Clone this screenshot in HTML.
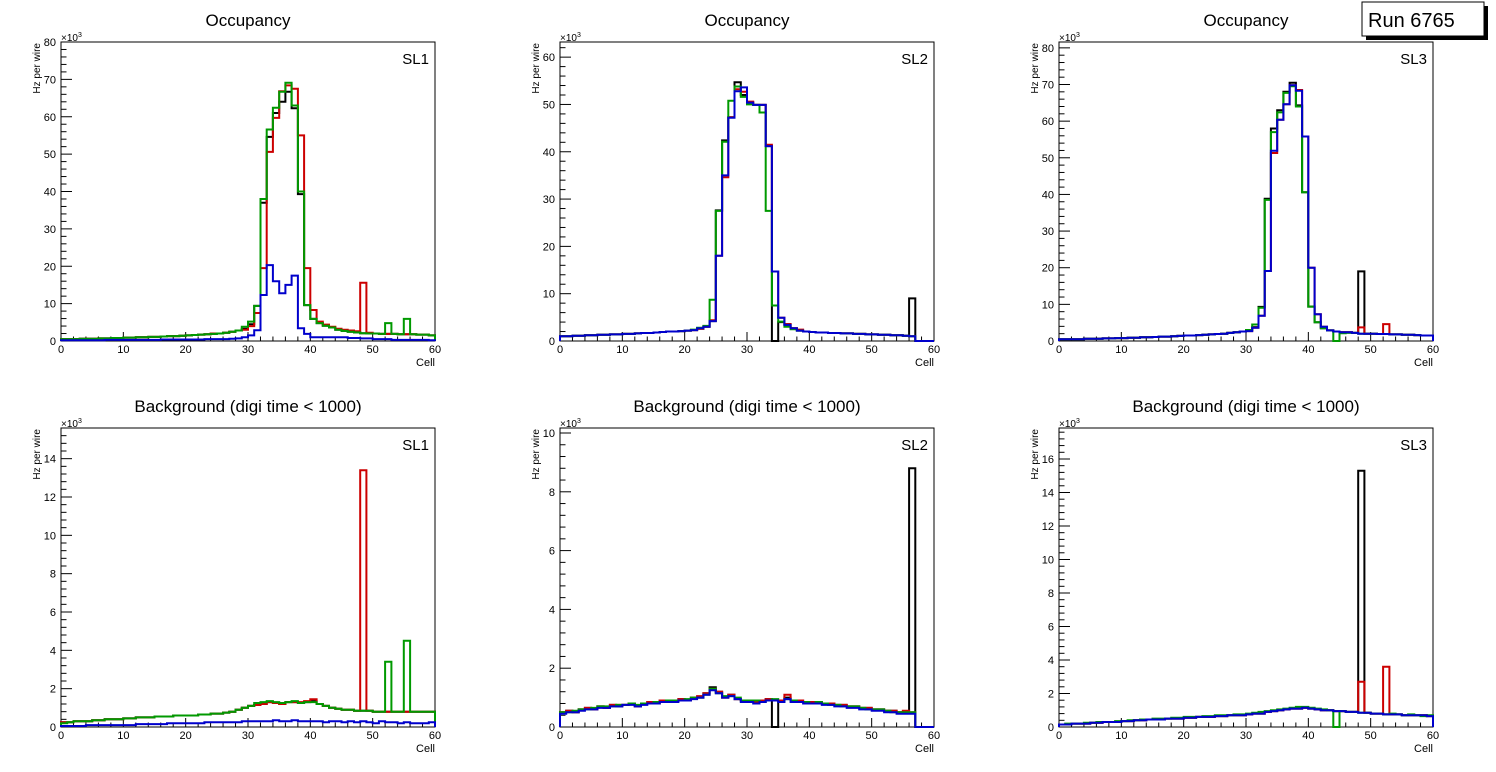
<!DOCTYPE html>
<html><head><meta charset="utf-8"><style>
body{margin:0;background:#fff;}
svg{display:block;font-family:"Liberation Sans",sans-serif;}
</style></head><body>
<svg id="c" width="1496" height="772" viewBox="0 0 1496 772"></svg>
<script>
const cells = [0,10,20,30,40,50,60];
const panelTitles = ["Occupancy","Occupancy","Occupancy","Background (digi time < 1000)","Background (digi time < 1000)","Background (digi time < 1000)"];
const slLabels = ["SL1","SL2","SL3","SL1","SL2","SL3"];
const yMax = [80,63.2,81.6,15.6,10.17,17.85];
const yStep = [10,10,10,2,2,2];
// Panel 1: Occupancy SL1
const p1k=[0.5,0.5,0.5,0.6,0.6,0.6,0.7,0.7,0.8,0.8,0.9,0.9,1.0,1.0,1.1,1.1,1.2,1.3,1.3,1.4,1.5,1.6,1.7,1.8,1.9,2.0,2.2,2.5,2.8,3.3,4.5,9.4,37,54.6,61,64,66.7,62.3,39.3,9.6,5.9,4.8,4.1,3.6,3.0,2.7,2.5,2.3,2.1,2.0,2.0,1.9,1.9,1.9,1.8,1.8,1.8,1.7,1.7,1.5];
const p1r=[0.5,0.5,0.5,0.6,0.6,0.6,0.7,0.7,0.8,0.8,0.9,0.9,1.0,1.0,1.1,1.1,1.2,1.3,1.3,1.4,1.5,1.6,1.7,1.8,2.0,2.0,2.2,2.5,2.8,3.0,4.0,7.5,19.5,50.6,59.7,66.8,68.4,67.5,55,19.5,8.3,5.2,4.4,3.8,3.3,3.0,2.8,2.6,15.6,2.2,2.0,1.9,1.9,1.9,1.8,1.8,1.8,1.7,1.7,1.5];
const p1g=[0.5,0.5,0.5,0.6,0.6,0.6,0.7,0.7,0.8,0.8,0.9,0.9,1.0,1.0,1.1,1.1,1.2,1.3,1.3,1.4,1.5,1.6,1.7,1.8,1.9,2.0,2.2,2.5,2.8,3.8,5.2,9.4,38,56.6,62.4,66.7,69.1,63,40,9.6,5.9,4.8,4.1,3.6,3.0,2.7,2.5,2.3,2.1,2.0,2.0,1.9,4.8,1.9,1.8,5.9,1.8,1.7,1.7,1.5];
const p1b=[0.2,0.2,0.2,0.2,0.2,0.2,0.2,0.3,0.3,0.3,0.3,0.3,0.3,0.3,0.3,0.3,0.4,0.4,0.4,0.4,0.4,0.4,0.4,0.5,0.5,0.5,0.5,0.6,0.7,1.0,1.5,2.9,12.3,20.3,16,12.8,15,17.5,3.4,1.9,1.0,1.0,1.0,1.0,1.0,1.0,0.8,0.8,0.7,0.7,0.5,0.5,0.5,0.3,0.3,0.3,0.3,0.3,0.3,0.2];
// Panel 2: Occupancy SL2
const p2k=[1.0,1.0,1.1,1.1,1.2,1.2,1.3,1.3,1.4,1.4,1.5,1.5,1.6,1.7,1.7,1.8,1.9,2.0,2.0,2.1,2.2,2.3,2.6,3.0,4.2,27.6,42.4,47.3,54.7,52,50.4,49.9,49.9,41.2,0,4,3.4,2.7,2.2,2.0,1.9,1.8,1.8,1.7,1.7,1.6,1.6,1.5,1.5,1.4,1.4,1.3,1.3,1.2,1.2,1.1,9,0,0,0];
const p2r=[1.0,1.0,1.1,1.1,1.2,1.2,1.3,1.3,1.4,1.4,1.5,1.5,1.6,1.7,1.7,1.8,1.9,2.0,2.0,2.1,2.2,2.3,2.6,3.0,4.4,18,34.6,47.3,53.2,52.7,50.6,49.9,49.9,41.5,14.7,4.9,3.6,2.7,2.4,2.0,1.9,1.8,1.8,1.7,1.7,1.6,1.6,1.5,1.5,1.4,1.4,1.3,1.3,1.2,1.2,1.1,1.0,0,0,0];
const p2g=[1.0,1.0,1.1,1.1,1.2,1.2,1.3,1.3,1.4,1.4,1.5,1.5,1.6,1.7,1.7,1.8,1.9,2.0,2.0,2.1,2.2,2.4,2.8,3.2,8.7,27.5,42.1,50.8,53.8,51.6,50,49.9,48.3,27.5,7.5,4.1,3.0,2.5,2.2,2.0,1.9,1.8,1.8,1.7,1.7,1.6,1.6,1.5,1.5,1.4,1.4,1.3,1.3,1.2,1.2,1.1,1.0,0,0,0];
const p2b=[1.0,1.0,1.1,1.1,1.2,1.2,1.3,1.3,1.4,1.4,1.5,1.5,1.6,1.7,1.7,1.8,1.9,2.0,2.0,2.1,2.2,2.3,2.7,3.0,4.2,18,35,47.2,52.8,53.6,50.4,49.9,49.9,41.2,14.7,4.9,3.4,2.7,2.2,2.0,1.9,1.8,1.8,1.7,1.7,1.6,1.6,1.5,1.5,1.4,1.4,1.3,1.3,1.2,1.2,1.1,1.0,0,0,0];
// Panel 3: Occupancy SL3
const p3k=[0.5,0.5,0.5,0.5,0.6,0.6,0.6,0.7,0.7,0.8,0.8,0.9,0.9,1.0,1.0,1.1,1.2,1.2,1.3,1.4,1.5,1.5,1.6,1.7,1.8,1.9,2.0,2.2,2.4,2.6,2.9,3.8,9.3,38.8,58,63,68,70.5,64.3,40.6,9.4,5.1,3.5,2.9,2.6,2.4,2.4,2.2,19,2.0,2.0,1.9,1.9,1.8,1.8,1.7,1.7,1.6,1.5,1.5];
const p3r=[0.5,0.5,0.5,0.5,0.6,0.6,0.6,0.7,0.7,0.8,0.8,0.9,0.9,1.0,1.0,1.1,1.2,1.2,1.3,1.4,1.5,1.5,1.6,1.7,1.8,1.9,2.0,2.2,2.4,2.6,2.7,3.6,6.9,19.1,51.3,60.4,64.6,69.8,68.5,55.8,20,7.3,3.9,2.9,2.6,2.4,2.4,2.2,3.7,2.0,2.0,1.9,4.6,1.8,1.8,1.7,1.7,1.6,1.5,1.5];
const p3g=[0.5,0.5,0.5,0.5,0.6,0.6,0.6,0.7,0.7,0.8,0.8,0.9,0.9,1.0,1.0,1.1,1.2,1.2,1.3,1.4,1.5,1.5,1.6,1.7,1.8,1.9,2.0,2.2,2.4,2.6,3.0,4.5,9.1,38.5,57,62.4,67.7,69.5,64,40.6,9.4,5.1,3.5,2.9,0,2.1,2.2,2.2,2.0,2.0,2.0,1.9,1.9,1.8,1.8,1.7,1.7,1.6,1.5,1.5];
const p3b=[0.5,0.5,0.5,0.5,0.6,0.6,0.6,0.7,0.7,0.8,0.8,0.9,0.9,1.0,1.0,1.1,1.2,1.2,1.3,1.4,1.5,1.5,1.6,1.7,1.8,1.9,2.0,2.2,2.4,2.6,2.7,3.6,6.9,19.1,51.9,60.4,64.6,69.8,68.3,55.8,20,7.3,3.9,2.9,2.6,2.4,2.4,2.2,2.0,2.0,2.0,1.9,1.9,1.8,1.8,1.7,1.7,1.6,1.5,1.5];
// Panel 4: Background SL1
const p4k=[0.25,0.25,0.3,0.3,0.3,0.35,0.35,0.4,0.4,0.4,0.45,0.45,0.5,0.5,0.5,0.55,0.55,0.55,0.6,0.6,0.6,0.6,0.65,0.65,0.7,0.7,0.75,0.8,0.9,1.0,1.1,1.15,1.2,1.3,1.25,1.2,1.3,1.3,1.25,1.3,1.35,1.2,1.1,1.0,0.95,0.9,0.9,0.85,0.85,0.85,0.8,0.8,0.8,0.8,0.8,0.8,0.8,0.8,0.8,0.8];
const p4r=[0.25,0.25,0.3,0.3,0.3,0.35,0.35,0.4,0.4,0.4,0.45,0.45,0.5,0.5,0.5,0.55,0.55,0.55,0.6,0.6,0.6,0.6,0.65,0.65,0.7,0.7,0.75,0.8,0.9,1.0,1.1,1.15,1.2,1.3,1.25,1.2,1.3,1.3,1.3,1.35,1.45,1.2,1.1,1.0,0.95,0.9,0.9,0.85,13.4,0.85,0.8,0.8,0.8,0.8,0.8,0.8,0.8,0.8,0.8,0.8];
const p4g=[0.2,0.25,0.3,0.3,0.3,0.35,0.35,0.4,0.4,0.4,0.45,0.45,0.5,0.5,0.5,0.55,0.55,0.55,0.6,0.6,0.6,0.6,0.65,0.65,0.7,0.7,0.75,0.8,0.9,1.0,1.1,1.25,1.3,1.35,1.3,1.25,1.3,1.35,1.25,1.3,1.3,1.2,1.1,1.0,0.95,0.9,0.9,0.85,0.85,0.85,0.8,0.8,3.4,0.8,0.8,4.5,0.8,0.8,0.8,0.8];
const p4b=[0.05,0.05,0.05,0.05,0.1,0.1,0.1,0.1,0.1,0.1,0.1,0.1,0.15,0.15,0.15,0.15,0.15,0.2,0.2,0.2,0.2,0.2,0.2,0.25,0.25,0.25,0.25,0.25,0.25,0.3,0.3,0.3,0.3,0.3,0.35,0.3,0.3,0.35,0.3,0.3,0.3,0.3,0.25,0.3,0.3,0.25,0.3,0.25,0.3,0.25,0.2,0.3,0.25,0.25,0.2,0.25,0.2,0.2,0.2,0.25];
// Panel 5: Background SL2
const p5k=[0.5,0.55,0.5,0.6,0.65,0.6,0.7,0.65,0.75,0.7,0.75,0.8,0.7,0.8,0.85,0.8,0.9,0.85,0.9,0.95,0.9,1.0,1.0,1.15,1.35,1.2,1.0,1.1,0.95,0.9,0.9,0.85,0.9,0.95,0,0.9,1.0,0.9,0.9,0.85,0.85,0.85,0.8,0.8,0.75,0.75,0.7,0.7,0.65,0.65,0.6,0.6,0.55,0.55,0.5,0.5,8.8,0,0,0];
const p5r=[0.5,0.55,0.5,0.6,0.65,0.6,0.7,0.65,0.75,0.75,0.75,0.8,0.7,0.8,0.85,0.8,0.9,0.85,0.9,0.95,0.9,1.0,1.05,1.15,1.3,1.2,1.0,1.1,0.95,0.9,0.9,0.85,0.9,0.95,0.9,0.9,1.1,0.9,0.9,0.85,0.85,0.85,0.8,0.8,0.75,0.75,0.7,0.7,0.65,0.65,0.6,0.6,0.55,0.55,0.5,0.55,0.5,0,0,0];
const p5g=[0.5,0.5,0.55,0.6,0.6,0.65,0.7,0.7,0.7,0.75,0.75,0.8,0.75,0.8,0.8,0.85,0.85,0.9,0.9,0.9,0.95,1.0,1.0,1.1,1.3,1.15,1.05,1.05,1.0,0.9,0.9,0.9,0.85,0.9,0.95,0.85,0.95,0.9,0.85,0.85,0.8,0.85,0.8,0.75,0.75,0.7,0.7,0.7,0.65,0.6,0.6,0.6,0.55,0.5,0.5,0.5,0.5,0,0,0];
const p5b=[0.45,0.5,0.5,0.55,0.6,0.6,0.65,0.65,0.7,0.7,0.75,0.75,0.7,0.75,0.8,0.8,0.85,0.85,0.85,0.9,0.9,0.95,1.0,1.1,1.25,1.15,1.0,1.05,0.95,0.85,0.85,0.8,0.85,0.9,0.9,0.85,0.95,0.85,0.85,0.8,0.8,0.8,0.75,0.75,0.7,0.7,0.65,0.65,0.6,0.6,0.55,0.55,0.5,0.5,0.45,0.45,0.45,0,0,0];
// Panel 6: Background SL3
const p6k=[0.15,0.15,0.2,0.2,0.2,0.25,0.25,0.3,0.3,0.3,0.35,0.35,0.4,0.4,0.45,0.45,0.45,0.5,0.5,0.5,0.55,0.55,0.6,0.6,0.6,0.65,0.65,0.7,0.7,0.7,0.75,0.8,0.8,0.9,0.95,1.0,1.05,1.1,1.1,1.15,1.1,1.05,1.0,1.0,0.95,0.95,0.9,0.9,15.3,0.85,0.8,0.8,0.75,0.75,0.75,0.7,0.7,0.7,0.7,0.65];
const p6r=[0.15,0.15,0.2,0.2,0.2,0.25,0.25,0.3,0.3,0.3,0.35,0.35,0.4,0.4,0.45,0.45,0.45,0.5,0.5,0.5,0.55,0.55,0.6,0.6,0.6,0.65,0.65,0.7,0.7,0.7,0.75,0.8,0.8,0.9,0.95,1.0,1.05,1.1,1.1,1.15,1.1,1.05,1.0,1.0,0.95,0.95,0.9,0.9,2.7,0.85,0.8,0.8,3.6,0.75,0.75,0.7,0.7,0.7,0.7,0.65];
const p6g=[0.15,0.2,0.2,0.2,0.25,0.25,0.3,0.3,0.3,0.35,0.35,0.4,0.4,0.45,0.45,0.5,0.5,0.5,0.55,0.55,0.6,0.6,0.6,0.65,0.65,0.7,0.7,0.7,0.75,0.75,0.8,0.85,0.9,0.95,1.0,1.05,1.1,1.15,1.2,1.2,1.15,1.1,1.05,1.0,0,0.95,0.9,0.9,0.85,0.85,0.8,0.8,0.75,0.8,0.75,0.7,0.75,0.7,0.65,0.7];
const p6b=[0.15,0.15,0.2,0.2,0.2,0.25,0.25,0.3,0.3,0.3,0.35,0.35,0.4,0.4,0.45,0.45,0.45,0.5,0.5,0.5,0.55,0.55,0.6,0.6,0.6,0.65,0.65,0.7,0.7,0.7,0.75,0.8,0.8,0.9,0.95,1.0,1.05,1.1,1.1,1.15,1.1,1.05,1.0,1.0,0.95,0.95,0.9,0.9,0.85,0.85,0.8,0.8,0.75,0.75,0.75,0.7,0.7,0.7,0.7,0.65];

const panelSeries=[[p1k,p1r,p1g,p1b],[p2k,p2r,p2g,p2b],[p3k,p3r,p3g,p3b],[p4k,p4r,p4g,p4b],[p5k,p5r,p5g,p5b],[p6k,p6r,p6g,p6b]];
const seriesColors=["#000000","#cc0000","#009900","#0000cc"];
const seriesNames=["black","red","green","blue"];

const NS="http://www.w3.org/2000/svg";
const svg=document.getElementById('c');
function mk(tag,attrs,parent){const e=document.createElementNS(NS,tag);for(const k in attrs)e.setAttribute(k,attrs[k]);(parent||svg).appendChild(e);return e;}
const colX=[61,560,1059], rowY=[42,428], W=374, H=299;

panelSeries.forEach((ser,p)=>{
  const x0=colX[p%3], y0=rowY[Math.floor(p/3)], yb=y0+H;
  const g=mk('g',{});
  
  
  const sx=v=>x0+v/60*W;
  const sy=v=>yb-Math.min(v,yMax[p])/yMax[p]*H;
  // title
  const t=mk('text',{x:x0+187,y:y0-16,'font-size':17,'text-anchor':'middle'},g);t.textContent=panelTitles[p];
  
  // frame
  const fr=mk('rect',{x:x0,y:y0,width:W,height:H,fill:'none',stroke:'#000','stroke-width':1},g);
  
  // x ticks
  for(let v=0;v<=60;v+=2){const L=(v%10===0)?9:4.5;mk('line',{x1:sx(v),x2:sx(v),y1:yb,y2:yb-L,stroke:'#000','stroke-width':1},g);}
  cells.forEach(v=>{const tl=mk('text',{x:sx(v),y:yb+12,'font-size':11,'text-anchor':'middle'},g);tl.textContent=v;
    });
  const xl=mk('text',{x:x0+W,y:yb+25,'font-size':11,'text-anchor':'end'},g);xl.textContent='Cell';
  
  // y ticks
  const st=yStep[p], mn=st/5;
  for(let i=0;i*mn<=yMax[p]+1e-9;i++){const v=i*mn;const L=(i%5===0)?11:5.5;mk('line',{x1:x0,x2:x0+L,y1:sy(v),y2:sy(v),stroke:'#000','stroke-width':1},g);
    if(i%5===0){const yl=mk('text',{x:x0-5,y:sy(v)+4,'font-size':11,'text-anchor':'end'},g);yl.textContent=Math.round(v);
      }}
  const ex=mk('text',{x:x0,y:y0-1,'font-size':10},g);ex.innerHTML='×10<tspan dy="-4" font-size="7">3</tspan>';
  
  const yt=mk('text',{x:0,y:0,'font-size':10,'text-anchor':'end',transform:`translate(${x0-21},${y0+1}) rotate(-90)`},g);yt.textContent='Hz per wire';
  
  const sl=mk('text',{x:x0+W-6,y:y0+22,'font-size':15,'text-anchor':'end'},g);sl.textContent=slLabels[p];
  
  // histograms
  ser.forEach((arr,s)=>{
    let d=`M${sx(0)},${yb}`;
    arr.forEach((v,i)=>{d+=` V${sy(v).toFixed(1)} H${sx(i+1).toFixed(1)}`;});
    d+=` V${yb}`;
    const path=mk('path',{d:d,fill:'none',stroke:seriesColors[s],'stroke-width':2},g);
    
    
  });
});
// Run label box
const rb=mk('g',{});


mk('rect',{x:1366,y:6,width:122,height:34,fill:'#000'},rb);
mk('rect',{x:1362,y:2,width:122,height:34,fill:'#fff',stroke:'#000','stroke-width':1},rb);
const rt=mk('text',{x:1368,y:27,'font-size':20},rb);rt.textContent='Run 6765';
</script>
</body></html>
